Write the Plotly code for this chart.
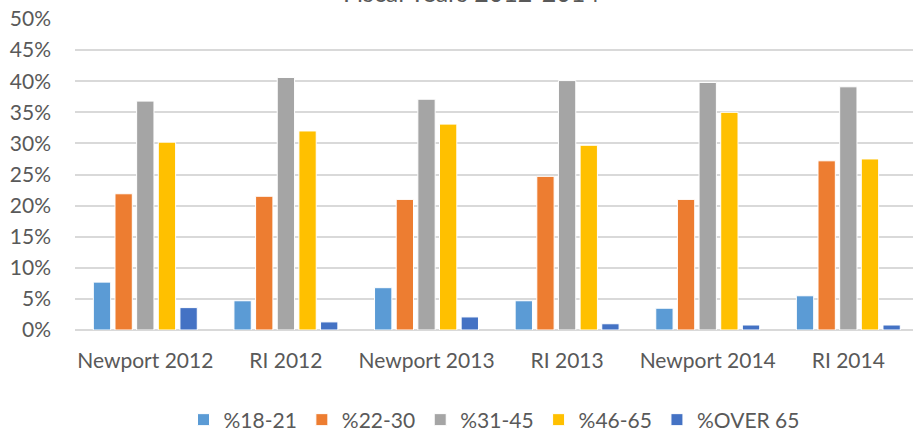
import plotly.graph_objects as go

categories = ["Newport 2012", "RI 2012", "Newport 2013", "RI 2013", "Newport 2014", "RI 2014"]
series_names = ["%18-21", "%22-30", "%31-45", "%46-65", "%OVER 65"]
v_18_21 = [0.077, 0.047, 0.068, 0.047, 0.035, 0.055]
v_22_30 = [0.219, 0.215, 0.210, 0.247, 0.210, 0.272]
v_31_45 = [0.368, 0.406, 0.371, 0.401, 0.398, 0.391]
v_46_65 = [0.302, 0.320, 0.331, 0.297, 0.350, 0.275]
v_over65 = [0.036, 0.013, 0.021, 0.010, 0.008, 0.008]
colors = ["#5B9BD5", "#ED7D31", "#A5A5A5", "#FFC000", "#4472C4"]
y_ticks = [0, 0.05, 0.10, 0.15, 0.20, 0.25, 0.30, 0.35, 0.40, 0.45, 0.50]

FONT = "Lato"
TXT = "#595959"
FS = 21

fig = go.Figure()
for name, vals, col in zip(series_names, [v_18_21, v_22_30, v_31_45, v_46_65, v_over65], colors):
    fig.add_trace(go.Bar(
        x=categories, y=vals, name=name,
        marker=dict(color=col, line=dict(color="white", width=1)),
    ))

fig.update_layout(
    width=913, height=432,
    margin=dict(l=75, r=0, t=19, b=102, autoexpand=False),
    paper_bgcolor="white", plot_bgcolor="white",
    barmode="group", bargap=0.23, bargroupgap=0.2,
    font=dict(family=FONT, size=FS, color=TXT),
    showlegend=True,
    legend=dict(orientation="h", x=0.5, xanchor="center", y=-(420 - 330) / 311, yanchor="middle",
                font=dict(family=FONT, size=FS, color=TXT), itemwidth=30,
                traceorder="normal"),
    xaxis=dict(range=[-0.5, 5.46], showgrid=False, showline=False, zeroline=False,
               ticks="", ticklabelstandoff=16, tickfont=dict(size=FS, color=TXT)),
    yaxis=dict(range=[0, 0.5], tickvals=y_ticks, tickformat=".0%",
               showgrid=True, gridcolor="#D9D9D9", gridwidth=1.5,
               zeroline=True, zerolinecolor="#D9D9D9", zerolinewidth=1.5,
               showline=False, ticks="", ticklabelstandoff=23,
               tickfont=dict(size=FS, color=TXT)),
    annotations=[dict(text="Fiscal Years 2012-2014", xref="paper", yref="paper",
                      x=(471 - 75) / 838, y=1.032, xanchor="center", yanchor="bottom",
                      showarrow=False, font=dict(family=FONT, size=25, color=TXT))],
)

fig.write_html("out.html", config={"displayModeBar": False},
               post_script="document.body.style.margin='0';")
